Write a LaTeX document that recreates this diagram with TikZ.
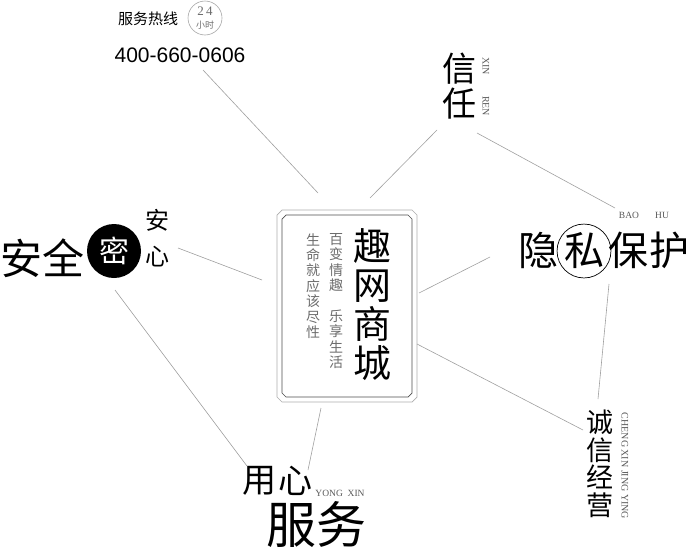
\documentclass[tikz,border=0pt]{standalone}
\usepackage{fontspec}
\setmainfont{Liberation Serif}
\newfontfamily\cjk{Noto Sans CJK SC}
\newfontfamily\arial{Liberation Sans}
\usetikzlibrary{positioning}

\begin{document}
\begin{tikzpicture}[
    x=1pt, y=-1pt,
    link/.style={draw=gray!75, line width=0.6pt},
    frame/.style={line width=0.7pt, line join=miter},
    zh/.style={font=\cjk\fontsize{#1}{#1}\selectfont, inner sep=0pt, align=center},
    zhv/.style 2 args={font=\cjk\fontsize{#1}{#2}\selectfont, inner sep=0pt, align=center},
    pinyin/.style={font=\fontsize{#1}{#1}\selectfont, text=gray!70!black, inner sep=0pt},
    slogan/.style={font=\cjk\fontsize{14}{15.4}\selectfont, text=gray!85!black, inner sep=0pt, align=center},
  ]
  \useasboundingbox (0,0) rectangle (690,552);

  % hotline
  \node[zh=15] (hotline) at (148,19) {服务热线};
  \node[circle, draw=gray!70, line width=0.6pt, minimum size=34pt, inner sep=0pt] (clock) at (205,18) {};
  \node[font=\fontsize{13}{13}\selectfont, text=gray!85!black, inner sep=0pt] (hours) at (205,11) {2\,4};
  \node[zh=9, text=gray!85!black] (hourunit) at (205,25) {小时};
  \node[font=\arial\fontsize{21}{21}\selectfont, inner sep=0pt] (phone) at (180,55) {400-660-0606};

  % centre box
  \node[minimum width=140pt, minimum height=192pt, inner sep=0pt] (box) at (347,306) {};
  \draw[frame, draw=gray!65] (277,215) -- (282,210) -- (412,210) -- (417,215)
    -- (417,397) -- (412,402) -- (282,402) -- (277,397) -- cycle;
  \draw[frame, draw=gray!60!black] (282,219) -- (286,215) -- (408,215) -- (412,219)
    -- (412,393) -- (408,397) -- (286,397) -- (282,393) -- cycle;
  \node[zhv={38}{39}] (shop) at (372,305) {趣\\网\\商\\城};
  \node[slogan] (fun) at (336,301) {百\\变\\情\\趣\\[15.4pt]乐\\享\\生\\活};
  \node[slogan] (life) at (313,286) {生\\命\\就\\应\\该\\尽\\性};

  % trust
  \node[zhv={34}{35}] (trust) at (459,86) {信\\任};
  \node[pinyin=10, rotate=-90] (xin) at (486,66) {XIN};
  \node[pinyin=10, rotate=-90] (ren) at (486,106) {REN};

  % privacy
  \node[zh=40] (yin) at (538,250) {隐};
  \node[zh=40, circle, draw, line width=0.7pt, minimum size=52pt] (si) at (584,251) {私};
  \node[zh=40] (bao) at (628,250) {保};
  \node[zh=40] (hu) at (669,250) {护};
  \node[pinyin=9.5] (baopy) at (629,215) {BAO};
  \node[pinyin=9.5] (hupy) at (662,215) {HU};

  % safety
  \node[zh=42] (an) at (21,258) {安};
  \node[zh=42] (quan) at (63,258) {全};
  \node[zh=30, circle, fill=black, text=white, minimum size=54pt] (mi) at (114,251) {密};
  \node[zh=24] (anxin1) at (157,220) {安};
  \node[zh=24] (anxin2) at (157,257) {心};

  % service
  \node[zh=34] (yong) at (259,481) {用};
  \node[zh=34] (xin2) at (295,481) {心};
  \node[pinyin=9.5] (yongxin) at (340,493) {YONG\ \ XIN};
  \node[zh=50] (fuwu) at (316,524) {服务};

  % honesty
  \node[zhv={27}{27.5}] (honest) at (600,464) {诚\\信\\经\\营};
  \node[pinyin=10, rotate=-90] (chengpy) at (625,466) {CHENG XIN JING YING};

  % connector ends
  \coordinate (c1a) at (203,70);  \coordinate (c1b) at (318,193);
  \coordinate (c2a) at (370,198); \coordinate (c2b) at (437,130);
  \coordinate (c3a) at (477,133); \coordinate (c3b) at (615,208);
  \coordinate (c4a) at (419,293); \coordinate (c4b) at (490,257);
  \coordinate (c5a) at (609,284); \coordinate (c5b) at (598,399);
  \coordinate (c6a) at (417,344); \coordinate (c6b) at (583,430);
  \coordinate (c7a) at (321,408); \coordinate (c7b) at (308,470);
  \coordinate (c8a) at (115,290); \coordinate (c8b) at (247,466);
  \coordinate (c9a) at (178,248); \coordinate (c9b) at (262,280);

  \foreach \i in {1,...,9}
    \draw[link] (c\i a) -- (c\i b);
\end{tikzpicture}
\end{document}
